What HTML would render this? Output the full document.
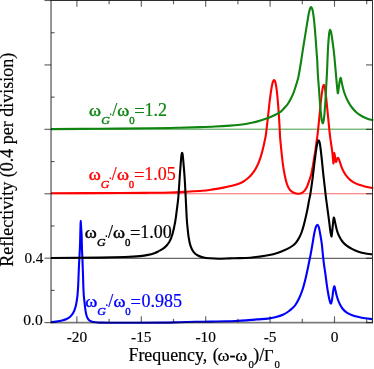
<!DOCTYPE html>
<html><head><meta charset="utf-8"><title>Reflectivity</title>
<style>
html,body{margin:0;padding:0;background:#fff;}
body{width:374px;height:369px;overflow:hidden;font-family:"Liberation Serif",serif;}
svg{display:block;will-change:transform;}
text{font-family:"Liberation Serif",serif;}
</style></head><body>
<svg width="374" height="369" viewBox="0 0 374 369">
<rect width="374" height="369" fill="#fff"/>
<g fill="none">
<line x1="51.05" y1="129.2" x2="372.50" y2="129.2" stroke="#108410" stroke-width="0.8"/>
<line x1="51.05" y1="193.75" x2="372.50" y2="193.75" stroke="#ff0000" stroke-width="1.15" opacity="0.6"/>
<line x1="51.05" y1="258.3" x2="372.50" y2="258.3" stroke="#000" stroke-width="0.75"/>
</g>
<g fill="none" stroke-width="2.1" stroke-linejoin="round" stroke-linecap="butt">
<path stroke="#0000ff" d="M51.00 322.20C51.83 322.10 54.00 321.93 56.00 321.60C58.00 321.27 61.23 320.63 63.00 320.20C64.77 319.77 65.50 319.50 66.60 319.00C67.70 318.50 68.67 317.97 69.60 317.20C70.53 316.43 71.43 315.47 72.20 314.40C72.97 313.33 73.62 312.15 74.20 310.80C74.78 309.45 75.28 307.90 75.70 306.30C76.12 304.70 76.42 302.90 76.70 301.20C76.98 299.50 77.20 297.97 77.40 296.10C77.60 294.23 77.77 291.85 77.90 290.00C78.03 288.15 78.08 287.50 78.20 285.00C78.32 282.50 78.47 278.33 78.60 275.00C78.73 271.67 78.87 267.83 79.00 265.00C79.13 262.17 79.27 260.50 79.40 258.00C79.53 255.50 79.68 252.67 79.80 250.00C79.92 247.33 80.02 244.60 80.10 242.00C80.18 239.40 80.24 236.73 80.30 234.40C80.36 232.07 80.40 229.90 80.45 228.00C80.50 226.10 80.55 224.18 80.60 223.00C80.64 221.82 80.68 220.90 80.72 220.90C80.76 220.90 80.78 221.82 80.85 223.00C80.92 224.18 81.03 226.10 81.15 228.00C81.28 229.90 81.49 232.07 81.60 234.40C81.71 236.73 81.73 239.40 81.80 242.00C81.87 244.60 81.90 247.33 82.00 250.00C82.10 252.67 82.29 255.50 82.40 258.00C82.51 260.50 82.55 262.17 82.65 265.00C82.75 267.83 82.89 271.67 83.00 275.00C83.11 278.33 83.22 282.50 83.30 285.00C83.38 287.50 83.41 288.15 83.50 290.00C83.59 291.85 83.68 294.07 83.85 296.10C84.02 298.13 84.28 300.17 84.50 302.20C84.72 304.23 84.95 306.43 85.20 308.30C85.45 310.17 85.67 311.88 86.00 313.40C86.33 314.92 86.72 316.30 87.20 317.40C87.68 318.50 88.18 319.32 88.90 320.00C89.62 320.68 90.40 321.12 91.50 321.50C92.60 321.88 94.08 322.12 95.50 322.30C96.92 322.48 97.68 322.52 100.00 322.60C102.32 322.68 102.73 322.77 109.40 322.80C116.07 322.83 130.73 322.83 140.00 322.80C149.27 322.77 158.33 322.70 165.00 322.60C171.67 322.50 174.83 322.33 180.00 322.20C185.17 322.07 191.00 321.90 196.00 321.80C201.00 321.70 205.00 321.68 210.00 321.60C215.00 321.52 221.83 321.40 226.00 321.30C230.17 321.20 231.67 321.15 235.00 321.00C238.33 320.85 242.35 320.67 246.00 320.40C249.65 320.13 253.27 319.70 256.90 319.40C260.53 319.10 264.60 319.00 267.80 318.60C271.00 318.20 273.58 317.63 276.10 317.00C278.62 316.37 280.85 315.72 282.90 314.80C284.95 313.88 286.88 312.55 288.40 311.50C289.92 310.45 290.90 309.50 292.00 308.50C293.10 307.50 293.87 307.08 295.00 305.50C296.13 303.92 297.53 301.67 298.80 299.00C300.07 296.33 301.50 292.78 302.60 289.50C303.70 286.22 304.52 282.88 305.40 279.30C306.28 275.72 307.17 271.47 307.90 268.00C308.63 264.53 309.30 261.00 309.80 258.50C310.30 256.00 310.43 255.55 310.90 253.00C311.37 250.45 312.03 246.50 312.60 243.20C313.17 239.90 313.73 235.95 314.30 233.20C314.87 230.45 315.48 228.10 316.00 226.70C316.52 225.30 316.95 224.80 317.40 224.80C317.85 224.80 318.23 225.17 318.70 226.70C319.17 228.23 319.68 231.15 320.20 234.00C320.72 236.85 321.35 240.30 321.80 243.80C322.25 247.30 322.53 251.55 322.90 255.00C323.27 258.45 323.58 261.33 324.00 264.50C324.42 267.67 324.92 270.52 325.40 274.00C325.88 277.48 326.40 281.93 326.90 285.40C327.40 288.87 327.90 292.12 328.40 294.80C328.90 297.48 329.45 300.07 329.90 301.50C330.35 302.93 330.72 303.88 331.10 303.40C331.48 302.92 331.83 300.82 332.20 298.60C332.57 296.38 332.95 292.15 333.30 290.10C333.65 288.05 333.98 286.45 334.30 286.30C334.62 286.15 334.80 287.62 335.20 289.20C335.60 290.78 336.07 293.60 336.70 295.80C337.33 298.00 338.05 300.28 339.00 302.40C339.95 304.52 341.03 306.75 342.40 308.50C343.77 310.25 345.45 311.73 347.20 312.90C348.95 314.07 350.85 314.78 352.90 315.50C354.95 316.22 357.48 316.75 359.50 317.20C361.52 317.65 362.75 317.85 365.00 318.20C367.25 318.55 371.67 319.12 373.00 319.30"/>
<path stroke="#ff0000" d="M51.00 193.30C62.50 193.25 103.50 193.08 120.00 193.00C136.50 192.92 141.67 192.88 150.00 192.80C158.33 192.72 163.82 192.68 170.00 192.50C176.18 192.32 181.75 191.98 187.10 191.70C192.45 191.42 197.82 191.18 202.10 190.80C206.38 190.42 209.23 189.93 212.80 189.40C216.37 188.87 220.30 188.20 223.50 187.60C226.70 187.00 229.25 186.52 232.00 185.80C234.75 185.08 237.85 184.18 240.00 183.30C242.15 182.42 243.27 181.63 244.90 180.50C246.53 179.37 248.32 177.97 249.80 176.50C251.28 175.03 252.58 173.45 253.80 171.70C255.02 169.95 256.15 167.90 257.10 166.00C258.05 164.10 258.75 162.32 259.50 160.30C260.25 158.28 260.97 156.07 261.60 153.90C262.23 151.73 262.78 149.48 263.30 147.30C263.82 145.12 264.27 142.85 264.70 140.80C265.12 138.75 265.47 137.57 265.85 135.00C266.23 132.43 266.59 128.90 267.00 125.40C267.41 121.90 267.85 118.07 268.30 114.00C268.75 109.93 269.25 104.78 269.70 101.00C270.15 97.22 270.57 94.15 271.00 91.30C271.43 88.45 271.88 85.67 272.30 83.90C272.72 82.13 273.17 81.32 273.50 80.70C273.83 80.08 274.02 80.07 274.30 80.20C274.58 80.33 274.88 80.47 275.20 81.50C275.52 82.53 275.87 84.23 276.20 86.40C276.53 88.57 276.87 91.25 277.20 94.50C277.53 97.75 277.90 102.10 278.20 105.90C278.50 109.70 278.77 113.78 279.00 117.30C279.23 120.82 279.44 124.05 279.60 127.00C279.76 129.95 279.78 132.32 279.95 135.00C280.12 137.68 280.33 140.12 280.60 143.10C280.88 146.08 281.22 149.37 281.60 152.90C281.98 156.43 282.42 160.78 282.90 164.30C283.38 167.82 283.88 170.88 284.50 174.00C285.12 177.12 285.83 180.55 286.60 183.00C287.37 185.45 288.17 187.22 289.10 188.70C290.03 190.18 291.03 191.10 292.20 191.90C293.37 192.70 295.00 193.18 296.10 193.50C297.20 193.82 297.90 193.85 298.80 193.80C299.70 193.75 300.50 193.78 301.50 193.20C302.50 192.62 303.85 191.47 304.80 190.30C305.75 189.13 306.40 187.97 307.20 186.20C308.00 184.43 308.92 181.73 309.60 179.70C310.28 177.67 310.80 176.03 311.30 174.00C311.80 171.97 312.12 170.20 312.60 167.50C313.08 164.80 313.72 160.78 314.20 157.80C314.68 154.82 315.10 152.32 315.50 149.60C315.90 146.88 316.27 143.93 316.60 141.50C316.93 139.07 317.15 137.95 317.50 135.00C317.85 132.05 318.32 127.57 318.70 123.80C319.08 120.03 319.40 116.47 319.80 112.40C320.20 108.33 320.67 103.20 321.10 99.40C321.53 95.60 322.05 91.83 322.40 89.60C322.75 87.37 322.95 86.80 323.20 86.00C323.45 85.20 323.68 84.80 323.90 84.80C324.12 84.80 324.32 85.33 324.50 86.00C324.68 86.67 324.72 86.83 325.00 88.80C325.28 90.77 325.82 94.42 326.20 97.80C326.58 101.18 326.90 105.03 327.30 109.10C327.70 113.17 328.17 117.88 328.60 122.20C329.03 126.52 329.50 131.53 329.90 135.00C330.30 138.47 330.62 140.28 331.00 143.00C331.38 145.72 331.87 148.57 332.20 151.30C332.53 154.03 332.79 157.40 333.00 159.40C333.21 161.40 333.31 163.62 333.45 163.30C333.59 162.98 333.71 159.25 333.85 157.50C333.99 155.75 334.09 152.82 334.30 152.80C334.51 152.78 334.83 155.88 335.10 157.40C335.38 158.92 335.62 161.63 335.95 161.90C336.28 162.17 336.74 159.68 337.10 159.00C337.46 158.32 337.72 157.55 338.10 157.80C338.48 158.05 338.87 159.08 339.40 160.50C339.93 161.92 340.58 164.43 341.30 166.30C342.02 168.17 342.75 169.98 343.70 171.70C344.65 173.42 345.78 175.12 347.00 176.60C348.22 178.08 349.38 179.38 351.00 180.60C352.62 181.82 354.67 183.00 356.70 183.90C358.73 184.80 361.03 185.40 363.20 186.00C365.37 186.60 368.02 187.15 369.70 187.50C371.38 187.85 372.70 188.00 373.30 188.10"/>
<path stroke="#000000" d="M51.00 258.00C59.17 257.93 87.67 257.77 100.00 257.60C112.33 257.43 118.33 257.25 125.00 257.00C131.67 256.75 136.17 256.45 140.00 256.10C143.83 255.75 145.50 255.43 148.00 254.90C150.50 254.37 153.27 253.50 155.00 252.90C156.73 252.30 156.87 252.13 158.40 251.30C159.93 250.47 162.38 249.45 164.20 247.90C166.02 246.35 167.90 244.38 169.30 242.00C170.70 239.62 171.62 236.97 172.60 233.60C173.58 230.23 174.50 225.72 175.20 221.80C175.90 217.88 176.28 214.15 176.80 210.10C177.32 206.05 177.82 202.98 178.30 197.50C178.78 192.02 179.27 183.28 179.70 177.20C180.13 171.12 180.58 164.83 180.90 161.00C181.22 157.17 181.40 155.57 181.60 154.20C181.80 152.83 181.93 152.80 182.10 152.80C182.27 152.80 182.40 152.83 182.60 154.20C182.80 155.57 182.97 157.17 183.30 161.00C183.63 164.83 184.20 171.12 184.60 177.20C185.00 183.28 185.35 190.73 185.70 197.50C186.05 204.27 186.43 213.18 186.70 217.80C186.97 222.42 186.98 222.00 187.30 225.20C187.62 228.40 188.05 233.50 188.60 237.00C189.15 240.50 189.75 243.68 190.60 246.20C191.45 248.72 192.48 250.55 193.70 252.10C194.92 253.65 196.23 254.60 197.90 255.50C199.57 256.40 201.68 257.03 203.70 257.50C205.72 257.97 207.65 258.10 210.00 258.30C212.35 258.50 214.52 258.68 217.80 258.70C221.08 258.72 226.83 258.48 229.70 258.40C232.57 258.32 231.62 258.32 235.00 258.20C238.38 258.08 245.90 257.97 250.00 257.70C254.10 257.43 256.38 257.05 259.60 256.60C262.82 256.15 266.35 255.62 269.30 255.00C272.25 254.38 274.90 253.65 277.30 252.90C279.70 252.15 281.70 251.33 283.70 250.50C285.70 249.67 287.70 248.77 289.30 247.90C290.90 247.03 292.10 246.28 293.30 245.30C294.50 244.32 295.48 243.33 296.50 242.00C297.52 240.67 298.53 238.97 299.40 237.30C300.27 235.63 300.97 234.03 301.70 232.00C302.43 229.97 303.08 227.75 303.80 225.10C304.52 222.45 305.35 218.95 306.00 216.10C306.65 213.25 307.20 210.57 307.70 208.00C308.20 205.43 308.58 202.87 309.00 200.70C309.42 198.53 309.68 198.08 310.20 195.00C310.72 191.92 311.52 186.52 312.10 182.20C312.68 177.88 313.17 173.45 313.70 169.10C314.23 164.75 314.82 159.75 315.30 156.10C315.78 152.45 316.22 149.50 316.60 147.20C316.98 144.90 317.27 143.43 317.60 142.30C317.93 141.17 318.27 140.40 318.60 140.40C318.93 140.40 319.28 141.03 319.60 142.30C319.92 143.57 320.13 145.15 320.50 148.00C320.87 150.85 321.37 155.33 321.80 159.40C322.23 163.47 322.67 168.33 323.10 172.40C323.53 176.47 323.97 180.03 324.40 183.80C324.82 187.57 325.27 191.78 325.65 195.00C326.03 198.22 326.31 200.12 326.70 203.10C327.09 206.08 327.57 209.65 328.00 212.90C328.43 216.15 328.90 219.48 329.30 222.60C329.70 225.72 330.05 229.28 330.40 231.60C330.75 233.92 331.12 236.37 331.40 236.50C331.68 236.63 331.85 234.43 332.10 232.40C332.35 230.37 332.63 226.73 332.90 224.30C333.17 221.87 333.43 218.62 333.70 217.80C333.97 216.98 334.17 218.18 334.50 219.40C334.83 220.62 335.23 223.07 335.70 225.10C336.17 227.13 336.63 229.58 337.30 231.60C337.97 233.62 338.75 235.43 339.70 237.20C340.65 238.97 341.78 240.77 343.00 242.20C344.22 243.63 345.43 244.65 347.00 245.80C348.57 246.95 350.60 248.15 352.40 249.10C354.20 250.05 355.80 250.82 357.80 251.50C359.80 252.18 361.87 252.70 364.40 253.20C366.93 253.70 371.57 254.28 373.00 254.50"/>
<path stroke="#108410" d="M51.00 129.10C59.17 129.05 83.50 128.93 100.00 128.80C116.50 128.67 137.22 128.47 150.00 128.30C162.78 128.13 168.37 128.00 176.70 127.80C185.03 127.60 193.62 127.32 200.00 127.10C206.38 126.88 210.00 126.75 215.00 126.50C220.00 126.25 225.83 125.90 230.00 125.60C234.17 125.30 237.17 125.00 240.00 124.70C242.83 124.40 244.82 124.15 247.00 123.80C249.18 123.45 250.72 123.20 253.10 122.60C255.48 122.00 258.58 121.07 261.30 120.20C264.02 119.33 266.97 118.35 269.40 117.40C271.83 116.45 274.00 115.47 275.90 114.50C277.80 113.53 279.32 112.77 280.80 111.60C282.28 110.43 283.58 108.85 284.80 107.50C286.02 106.15 287.02 105.12 288.10 103.50C289.18 101.88 290.35 99.70 291.30 97.80C292.25 95.90 293.07 94.00 293.80 92.10C294.53 90.20 295.10 88.30 295.70 86.40C296.30 84.50 296.88 82.60 297.40 80.70C297.92 78.80 298.15 78.45 298.80 75.00C299.45 71.55 300.60 64.37 301.30 60.00C302.00 55.63 302.37 52.83 303.00 48.80C303.63 44.77 304.40 40.13 305.10 35.80C305.80 31.47 306.57 26.60 307.20 22.80C307.83 19.00 308.42 15.38 308.90 13.00C309.38 10.62 309.72 9.47 310.10 8.50C310.48 7.53 310.80 6.98 311.20 7.20C311.60 7.42 312.07 8.02 312.50 9.80C312.93 11.58 313.40 14.65 313.80 17.90C314.20 21.15 314.57 25.50 314.90 29.30C315.23 33.10 315.52 36.92 315.80 40.70C316.08 44.48 316.37 48.78 316.60 52.00C316.83 55.22 316.98 56.17 317.20 60.00C317.42 63.83 317.62 70.33 317.90 75.00C318.18 79.67 318.58 83.67 318.90 88.00C319.22 92.33 319.48 96.93 319.80 101.00C320.12 105.07 320.47 109.15 320.80 112.40C321.13 115.65 321.47 118.68 321.80 120.50C322.13 122.32 322.48 123.30 322.80 123.30C323.12 123.30 323.40 122.32 323.70 120.50C324.00 118.68 324.32 115.65 324.60 112.40C324.88 109.15 325.17 104.80 325.40 101.00C325.63 97.20 325.80 93.12 326.00 89.60C326.20 86.08 326.43 82.83 326.60 79.90C326.77 76.97 326.85 75.32 327.00 72.00C327.15 68.68 327.35 63.60 327.50 60.00C327.65 56.40 327.73 53.62 327.90 50.40C328.07 47.18 328.27 43.68 328.50 40.70C328.73 37.72 329.02 34.30 329.30 32.50C329.58 30.70 329.88 29.85 330.20 29.90C330.52 29.95 330.87 31.28 331.20 32.80C331.53 34.32 331.87 36.72 332.20 39.00C332.53 41.28 332.88 44.00 333.20 46.50C333.52 49.00 333.80 51.15 334.10 54.00C334.40 56.85 334.65 59.75 335.00 63.60C335.35 67.45 335.82 72.82 336.20 77.10C336.58 81.38 337.00 86.62 337.30 89.30C337.60 91.98 337.73 93.65 338.00 93.20C338.27 92.75 338.62 88.63 338.90 86.60C339.18 84.57 339.42 82.47 339.70 81.00C339.98 79.53 340.27 77.88 340.55 77.80C340.83 77.72 341.11 79.25 341.40 80.50C341.69 81.75 341.80 83.22 342.30 85.30C342.80 87.38 343.48 90.38 344.40 93.00C345.32 95.62 346.55 98.58 347.80 101.00C349.05 103.42 350.40 105.55 351.90 107.50C353.40 109.45 355.03 111.20 356.80 112.70C358.57 114.20 360.62 115.47 362.50 116.50C364.38 117.53 366.30 118.28 368.10 118.90C369.90 119.52 372.43 119.98 373.30 120.20"/>
</g>
<g stroke="#000" stroke-opacity="0.52" stroke-width="1.6" fill="none">
<path d="M51.05 0.50 V322.60 H372.50"/>
</g>
<g stroke="#2e2e2e" stroke-width="1" fill="none">
<path d="M50.40 0.50 H372.50 V323.25"/>
</g>
<g stroke="#000" stroke-opacity="0.62" stroke-width="1.15" fill="none">
<line x1="76.90" y1="322.60" x2="76.90" y2="316.30"/><line x1="76.90" y1="0.50" x2="76.90" y2="6.80"/><line x1="109.10" y1="322.60" x2="109.10" y2="318.80"/><line x1="109.10" y1="0.50" x2="109.10" y2="4.30"/><line x1="141.30" y1="322.60" x2="141.30" y2="316.30"/><line x1="141.30" y1="0.50" x2="141.30" y2="6.80"/><line x1="173.50" y1="322.60" x2="173.50" y2="318.80"/><line x1="173.50" y1="0.50" x2="173.50" y2="4.30"/><line x1="205.70" y1="322.60" x2="205.70" y2="316.30"/><line x1="205.70" y1="0.50" x2="205.70" y2="6.80"/><line x1="237.90" y1="322.60" x2="237.90" y2="318.80"/><line x1="237.90" y1="0.50" x2="237.90" y2="4.30"/><line x1="270.10" y1="322.60" x2="270.10" y2="316.30"/><line x1="270.10" y1="0.50" x2="270.10" y2="6.80"/><line x1="302.30" y1="322.60" x2="302.30" y2="318.80"/><line x1="302.30" y1="0.50" x2="302.30" y2="4.30"/><line x1="334.50" y1="322.60" x2="334.50" y2="316.30"/><line x1="334.50" y1="0.50" x2="334.50" y2="6.80"/><line x1="366.70" y1="322.60" x2="366.70" y2="318.80"/><line x1="366.70" y1="0.50" x2="366.70" y2="4.30"/><line x1="44.45" y1="322.60" x2="51.05" y2="322.60"/><line x1="366.00" y1="322.60" x2="372.50" y2="322.60"/><line x1="51.05" y1="290.39" x2="54.65" y2="290.39"/><line x1="44.45" y1="258.18" x2="51.05" y2="258.18"/><line x1="366.00" y1="258.18" x2="372.50" y2="258.18"/><line x1="51.05" y1="225.97" x2="54.65" y2="225.97"/><line x1="44.45" y1="193.76" x2="51.05" y2="193.76"/><line x1="366.00" y1="193.76" x2="372.50" y2="193.76"/><line x1="51.05" y1="161.55" x2="54.65" y2="161.55"/><line x1="44.45" y1="129.34" x2="51.05" y2="129.34"/><line x1="366.00" y1="129.34" x2="372.50" y2="129.34"/><line x1="51.05" y1="97.13" x2="54.65" y2="97.13"/><line x1="44.45" y1="64.92" x2="51.05" y2="64.92"/><line x1="366.00" y1="64.92" x2="372.50" y2="64.92"/><line x1="51.05" y1="32.71" x2="54.65" y2="32.71"/><line x1="44.45" y1="0.50" x2="51.05" y2="0.50"/><line x1="366.00" y1="0.50" x2="372.50" y2="0.50"/>
</g>
<g fill="#000" font-size="15.4" stroke="#000" stroke-width="0.15">
<text x="24.4" y="262.5" font-size="15.2">0.4</text>
<text x="23.2" y="324.9" font-size="15.6">0.0</text>
<text x="76.90" y="341.7" text-anchor="middle">-20</text><text x="141.30" y="341.7" text-anchor="middle">-15</text><text x="205.70" y="341.7" text-anchor="middle">-10</text><text x="270.10" y="341.7" text-anchor="middle">-5</text><text x="334.50" y="341.7" text-anchor="middle">0</text>
</g>
<g fill="#000" stroke="#000" stroke-width="0.2"><text x="128.49" y="361.10" font-size="18.00" textLength="78.70" lengthAdjust="spacingAndGlyphs">Frequency,</text><text x="212.71" y="361.10" font-size="18.00">(</text><text x="217.59" y="361.10" font-size="16.00" textLength="12.01" lengthAdjust="spacingAndGlyphs">ω</text><text x="229.43" y="361.10" font-size="18.00">-</text><text x="235.39" y="361.10" font-size="16.00" textLength="12.01" lengthAdjust="spacingAndGlyphs">ω</text><text x="248.39" y="367.70" font-size="10.80">0</text><text x="253.22" y="361.10" font-size="18.00">)/</text><text x="264.02" y="361.10" font-size="16.50">Γ</text><text x="274.59" y="367.70" font-size="10.80">0</text></g>
<text transform="translate(13.4 266.8) rotate(-90)" font-size="18" fill="#000" stroke="#000" stroke-width="0.2">Reflectivity (0.4 per division)</text>
<g fill="#108410"><text x="89.09" y="116.20" font-size="16.00" textLength="12.01" lengthAdjust="spacingAndGlyphs" stroke="#108410" stroke-width="0.4">ω</text><text x="101.24" y="123.70" font-size="10.80" font-style="italic" textLength="8.58" lengthAdjust="spacingAndGlyphs" stroke="#108410" stroke-width="0.4">G</text><rect x="110.00" y="113.50" width="1.3" height="1.7" stroke="none"/><text x="112.20" y="116.20" font-size="18.00" stroke="#108410" stroke-width="0.2">/</text><text x="117.39" y="116.20" font-size="16.00" textLength="12.01" lengthAdjust="spacingAndGlyphs" stroke="#108410" stroke-width="0.4">ω</text><text x="129.19" y="123.90" font-size="10.80" stroke="#108410" stroke-width="0.4">0</text><text x="134.28" y="117.20" font-size="18.50" stroke="#108410" stroke-width="0.2">=</text><text x="144.62" y="116.20" font-size="18.00" stroke="#108410" stroke-width="0.2">1.2</text></g><g fill="#ff0000"><text x="88.69" y="180.10" font-size="16.00" textLength="12.01" lengthAdjust="spacingAndGlyphs" stroke="#ff0000" stroke-width="0.4">ω</text><text x="100.84" y="187.60" font-size="10.80" font-style="italic" textLength="8.58" lengthAdjust="spacingAndGlyphs" stroke="#ff0000" stroke-width="0.4">G</text><rect x="109.60" y="177.40" width="1.3" height="1.7" stroke="none"/><text x="111.80" y="180.10" font-size="18.00" stroke="#ff0000" stroke-width="0.2">/</text><text x="116.99" y="180.10" font-size="16.00" textLength="12.01" lengthAdjust="spacingAndGlyphs" stroke="#ff0000" stroke-width="0.4">ω</text><text x="128.79" y="187.80" font-size="10.80" stroke="#ff0000" stroke-width="0.4">0</text><text x="133.88" y="181.10" font-size="18.50" stroke="#ff0000" stroke-width="0.2">=</text><text x="144.22" y="180.10" font-size="18.00" stroke="#ff0000" stroke-width="0.2">1.05</text></g><g fill="#000000"><text x="84.79" y="238.00" font-size="16.00" textLength="12.01" lengthAdjust="spacingAndGlyphs" stroke="#000000" stroke-width="0.4">ω</text><text x="96.94" y="245.50" font-size="10.80" font-style="italic" textLength="8.58" lengthAdjust="spacingAndGlyphs" stroke="#000000" stroke-width="0.4">G</text><rect x="105.70" y="235.30" width="1.3" height="1.7" stroke="none"/><text x="107.90" y="238.00" font-size="18.00" stroke="#000000" stroke-width="0.2">/</text><text x="113.09" y="238.00" font-size="16.00" textLength="12.01" lengthAdjust="spacingAndGlyphs" stroke="#000000" stroke-width="0.4">ω</text><text x="124.89" y="245.70" font-size="10.80" stroke="#000000" stroke-width="0.4">0</text><text x="129.98" y="239.00" font-size="18.50" stroke="#000000" stroke-width="0.2">=</text><text x="140.32" y="238.00" font-size="18.00" stroke="#000000" stroke-width="0.2">1.00</text></g><g fill="#0000ff"><text x="85.19" y="307.00" font-size="16.00" textLength="12.01" lengthAdjust="spacingAndGlyphs" stroke="#0000ff" stroke-width="0.4">ω</text><text x="97.34" y="314.50" font-size="10.80" font-style="italic" textLength="8.58" lengthAdjust="spacingAndGlyphs" stroke="#0000ff" stroke-width="0.4">G</text><rect x="106.10" y="304.30" width="1.3" height="1.7" stroke="none"/><text x="108.30" y="307.00" font-size="18.00" stroke="#0000ff" stroke-width="0.2">/</text><text x="113.49" y="307.00" font-size="16.00" textLength="12.01" lengthAdjust="spacingAndGlyphs" stroke="#0000ff" stroke-width="0.4">ω</text><text x="125.29" y="314.70" font-size="10.80" stroke="#0000ff" stroke-width="0.4">0</text><text x="130.38" y="308.00" font-size="18.50" stroke="#0000ff" stroke-width="0.2">=</text><text x="141.61" y="307.00" font-size="18.00" stroke="#0000ff" stroke-width="0.2">0.985</text></g>
</svg>
</body></html>
